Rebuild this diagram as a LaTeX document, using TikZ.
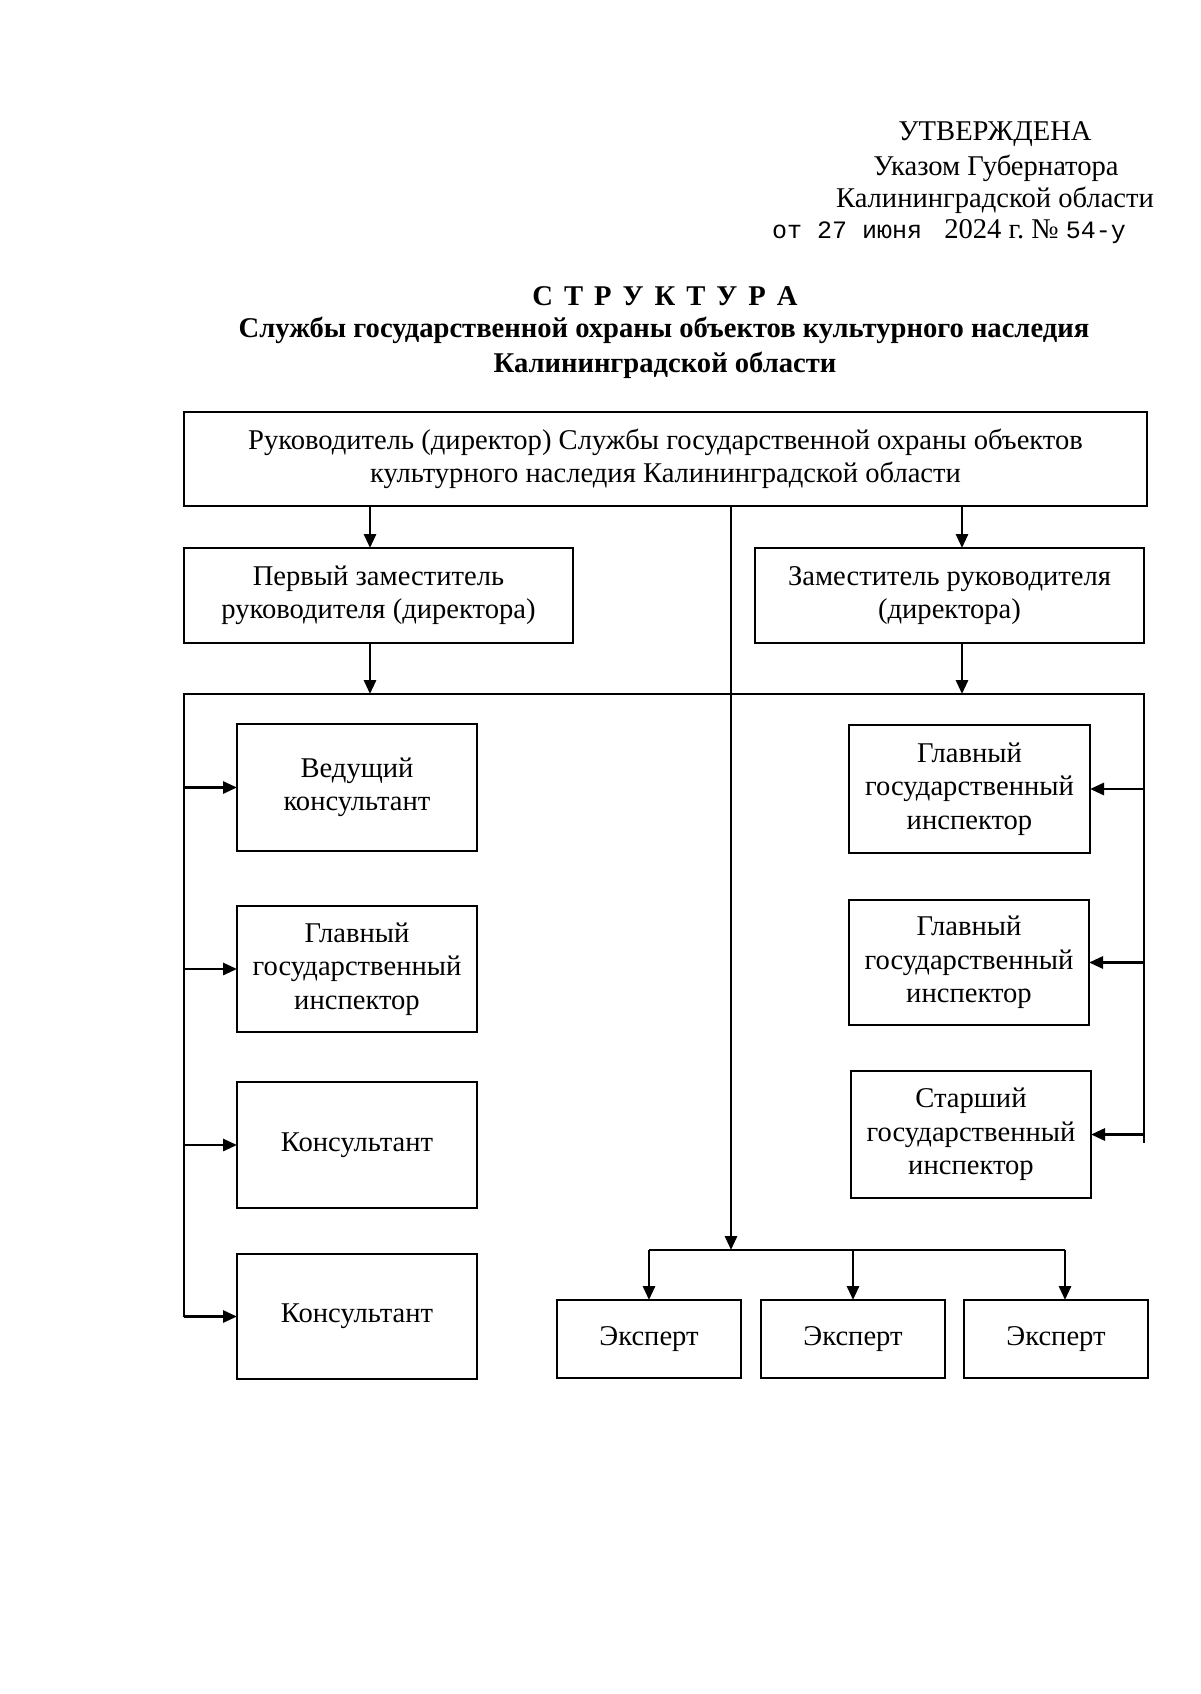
\documentclass[tikz,border=0pt]{standalone}
\usepackage{fontspec}
\setmainfont{Liberation Serif}
\newfontfamily\monofont{Liberation Mono}
\usetikzlibrary{arrows.meta}
\begin{document}
\begin{tikzpicture}[x=1pt,y=-1pt,
  box/.style={draw, line width=2.8pt, align=center, inner sep=0pt, outer sep=0pt,
              font=\fontsize{28.6}{33.5}\selectfont},
  ln/.style={line width=2.9pt},
  arr/.style={line width=2.9pt, -{Triangle[length=14pt,width=12pt]}},
  txt/.style={font=\fontsize{28.6}{33}\selectfont, inner sep=0pt},
  ttl/.style={font=\fontsize{28.6}{33}\selectfont\bfseries, inner sep=0pt}]
\useasboundingbox[fill=white] (0,0) rectangle (1200,1694);

% header
\node[txt] (h1) at (995,134) {УТВЕРЖДЕНА};
\node[txt] (h2) at (996,168) {Указом Губернатора};
\node[txt] (h3) at (995,200) {Калининградской области};
\node[txt] (h4) at (949,232) {{\monofont\fontsize{25}{30}\selectfont от 27 июня }~2024 г.~№ {\monofont\fontsize{25}{30}\selectfont 54-у}};

% title
\node[ttl] (t1) at (665,296) {{\spaceskip=11pt С Т Р У К Т У Р А}};
\node[ttl] (t2) at (664,330) {Службы государственной охраны объектов культурного наследия};
\node[ttl] (t3) at (665,365) {Калининградской области};

% boxes
\node[box, minimum width=963pt, minimum height=94pt] (top) at (665.5,459)
  {Руководитель (директор) Службы государственной охраны объектов\\культурного наследия Калининградской области};
\node[box, minimum width=389pt, minimum height=95pt] (d1) at (378.5,595.5)
  {Первый заместитель\\руководителя (директора)};
\node[box, minimum width=389pt, minimum height=95pt] (d2) at (949.5,595.5)
  {Заместитель руководителя\\(директора)};

\node[box, minimum width=240pt, minimum height=127pt] (L1) at (357,787.5) {Ведущий\\консультант};
\node[box, minimum width=240pt, minimum height=126pt] (L2) at (357,969) {Главный\\государственный\\инспектор};
\node[box, minimum width=240pt, minimum height=126pt] (L3) at (357,1145) {Консультант};
\node[box, minimum width=240pt, minimum height=125pt] (L4) at (357,1316.5) {Консультант};

\node[box, minimum width=241pt, minimum height=128pt] (R1) at (969.5,789) {Главный\\государственный\\инспектор};
\node[box, minimum width=240pt, minimum height=125pt] (R2) at (969,962.5) {Главный\\государственный\\инспектор};
\node[box, minimum width=240pt, minimum height=127pt] (R3) at (971,1134.5) {Старший\\государственный\\инспектор};

\node[box, minimum width=184pt, minimum height=78pt] (E1) at (649,1339) {Эксперт};
\node[box, minimum width=184pt, minimum height=78pt] (E2) at (853,1339) {Эксперт};
\node[box, minimum width=184pt, minimum height=78pt] (E3) at (1056,1339) {Эксперт};

% helper coordinates
\coordinate (a1) at (370,0);
\coordinate (a2) at (962,0);
\coordinate (bTL) at (184,694);
\coordinate (bTR) at (1144,694);
\coordinate (bBL) at (184,1317);
\coordinate (bBR) at (1144,1143);
\coordinate (eb) at (731,1250);
\coordinate (ebL) at (649,1250);
\coordinate (ebR) at (1065,1250);

% connectors
\draw[arr] (top.south -| a1) -- (d1.north -| a1);
\draw[arr] (top.south -| a2) -- (d2.north -| a2);
\draw[arr] (d1.south -| a1) -- (bTL -| a1);
\draw[arr] (d2.south -| a2) -- (bTL -| a2);
\draw[ln] (bBL) -- (bTL) -- (bTR) -- (bBR);
\draw[arr] (bBL |- L1) -- (L1.west);
\draw[arr] (bBL |- L2) -- (L2.west);
\draw[arr] (bBL |- L3) -- (L3.west);
\draw[arr] (bBL |- L4) -- (L4.west);
\draw[arr] (bTR |- R1) -- (R1.east);
\draw[arr] (bTR |- R2) -- (R2.east);
\draw[arr] (bTR |- R3) -- (R3.east);
\draw[arr] (top.south -| eb) -- (eb);
\draw[ln] (ebL) -- (ebR);
\draw[arr] (ebL) -- (E1.north -| ebL);
\draw[arr] (eb -| E2) -- (E2.north);
\draw[arr] (ebR) -- (E3.north -| ebR);
\end{tikzpicture}
\end{document}
